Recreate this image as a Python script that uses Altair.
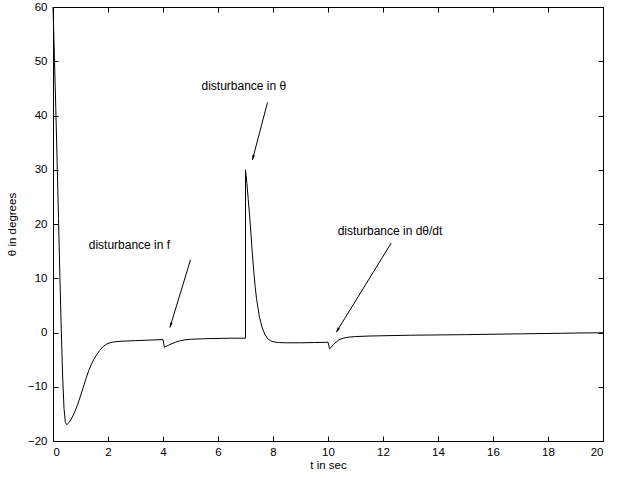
import math

import altair as alt
import pandas as pd

# Pendulum angle response with three disturbances (time in s, angle in degrees)
t_sec = [
    0.0, 0.05, 0.1, 0.15, 0.2, 0.25, 0.3, 0.35, 0.4, 0.45, 0.5, 0.6, 0.7, 0.8, 0.9,
    1.0, 1.1, 1.2, 1.3, 1.4, 1.5, 1.6, 1.7, 1.8, 1.9, 2.0, 2.2, 2.5, 3.0, 3.5, 4.0,
    4.05, 4.1, 4.2, 4.3, 4.45, 4.6, 4.8, 5.0, 5.5, 6.0, 6.5, 7.0,
    7.0, 7.05, 7.1, 7.15, 7.2, 7.25, 7.3, 7.35, 7.4, 7.5, 7.6, 7.7, 7.8, 7.9, 8.0,
    8.2, 8.5, 9.0, 9.5, 10.0,
    10.06, 10.12, 10.2, 10.3, 10.4, 10.55, 10.75, 11.0, 11.5, 12.0, 13.0, 14.0,
    15.0, 16.0, 17.0, 18.0, 19.0, 20.0,
]
theta_deg = [
    60.0, 51.0, 41.5, 31.5, 21.0, 10.5, 0.5, -8.0, -14.0, -16.6, -17.0, -16.5, -15.6, -14.5, -13.2,
    -11.7, -10.1, -8.5, -7.0, -5.8, -4.8, -4.0, -3.3, -2.7, -2.3, -2.0, -1.75, -1.6, -1.5, -1.4, -1.3,
    -2.7, -2.6, -2.35, -2.1, -1.8, -1.55, -1.35, -1.25, -1.15, -1.1, -1.05, -1.05,
    30.0, 27.5, 24.5, 21.5, 18.0, 14.5, 11.3, 8.5, 6.3, 3.0, 1.0, -0.3, -1.1, -1.5, -1.7,
    -1.85, -1.9, -1.9, -1.85, -1.8,
    -3.0, -2.7, -2.2, -1.75, -1.35, -1.05, -0.85, -0.75, -0.65, -0.6, -0.5, -0.45,
    -0.4, -0.32, -0.25, -0.18, -0.1, -0.05,
]

x_ticks = [0, 2, 4, 6, 8, 10, 12, 14, 16, 18, 20]
y_ticks = [-20, -10, 0, 10, 20, 30, 40, 50, 60]

# Annotation texts and the arrows that point from them to the curve
note_text = ["disturbance in f", "disturbance in θ", "disturbance in dθ/dt"]
note_t = [1.3, 5.4, 10.35]
note_theta = [16.2, 45.4, 18.8]

arrow_tail_t = [5.0, 7.8, 12.3]
arrow_tail_theta = [13.4, 42.4, 16.5]
arrow_tip_t = [4.25, 7.25, 10.3]
arrow_tip_theta = [0.9, 31.8, 0.05]

W, H = 550, 434
T_DOMAIN = [0, 20]
Y_DOMAIN = [-20, 60]
FONT = "Liberation Sans"

curve = pd.DataFrame({"t": t_sec, "theta": theta_deg, "i": list(range(len(t_sec)))})
notes = pd.DataFrame({"text": note_text, "t": note_t, "theta": note_theta})

# screen-space direction of each arrow, used to rotate its head
px_t = W / (T_DOMAIN[1] - T_DOMAIN[0])
px_y = H / (Y_DOMAIN[1] - Y_DOMAIN[0])
angles = []
for t0, y0, t1, y1 in zip(arrow_tail_t, arrow_tail_theta, arrow_tip_t, arrow_tip_theta):
    dx = (t1 - t0) * px_t
    dy_up = (y1 - y0) * px_y
    angles.append(math.degrees(math.atan2(dx, dy_up)) % 360)

arrows = pd.DataFrame({
    "t0": arrow_tail_t, "y0": arrow_tail_theta,
    "t1": arrow_tip_t, "y1": arrow_tip_theta,
    "ang": angles,
})

xs = alt.Scale(domain=T_DOMAIN, nice=False, zero=False)
ys = alt.Scale(domain=Y_DOMAIN, nice=False, zero=False)

lab = dict(labelFont=FONT, labelFontSize=11.5, labelColor="black",
           titleFont=FONT, titleFontSize=11.5, titleColor="black",
           titleFontWeight="normal", grid=False, ticks=False, domain=False)

x_label_axis = alt.Axis(orient="bottom", values=x_ticks, labelPadding=5,
                        title="t in sec", titlePadding=2, **lab)
y_label_axis = alt.Axis(orient="left", values=y_ticks, labelPadding=6,
                        title="θ in degrees", titlePadding=10, **lab)


def tick_axis(orient, values):
    # inward ticks: axis line moved inside the frame, ticks reaching back to the edge
    return alt.Axis(orient=orient, values=values, offset=-5, tickSize=5,
                    tickColor="black", tickWidth=1, labels=False, domain=False,
                    grid=False, title="")


line = alt.Chart(curve).mark_line(color="black", strokeWidth=1).encode(
    x=alt.X("t:Q", scale=xs, axis=x_label_axis),
    y=alt.Y("theta:Q", scale=ys, axis=y_label_axis),
    order="i:Q",
)

ticks_bl = alt.Chart(curve).mark_line(opacity=0).encode(
    x=alt.X("t:Q", scale=xs, axis=tick_axis("bottom", x_ticks)),
    y=alt.Y("theta:Q", scale=ys, axis=tick_axis("left", y_ticks)),
    order="i:Q",
)

ticks_tr = alt.Chart(curve).mark_line(opacity=0).encode(
    x=alt.X("t:Q", scale=xs, axis=tick_axis("top", x_ticks)),
    y=alt.Y("theta:Q", scale=ys, axis=tick_axis("right", y_ticks)),
    order="i:Q",
)

shafts = alt.Chart(arrows).mark_rule(color="black", strokeWidth=1).encode(
    x=alt.X("t0:Q", scale=xs, axis=None),
    y=alt.Y("y0:Q", scale=ys, axis=None),
    x2="t1:Q",
    y2="y1:Q",
)

heads = alt.Chart(arrows).mark_point(
    shape="M0,0L0.55,2L-0.55,2Z", filled=True, color="black", opacity=1, size=25,
).encode(
    x=alt.X("t1:Q", scale=xs, axis=None),
    y=alt.Y("y1:Q", scale=ys, axis=None),
    angle=alt.Angle("ang:Q", scale=None),
)

labels = alt.Chart(notes).mark_text(
    align="left", baseline="middle", font=FONT, fontSize=12, color="black",
).encode(
    x=alt.X("t:Q", scale=xs, axis=None),
    y=alt.Y("theta:Q", scale=ys, axis=None),
    text="text:N",
)

chart = (
    alt.layer(line, ticks_bl, ticks_tr, shafts, heads, labels)
    .resolve_axis(x="independent", y="independent")
    .properties(
        width=W,
        height=H,
        autosize=alt.AutoSizeParams(type="none"),
        padding={"left": 53, "top": 7, "right": 20, "bottom": 38},
        background="white",
    )
    .configure_view(stroke="black", strokeWidth=1)
)

chart.save("out.html", embed_options={"renderer": "svg", "actions": False})
